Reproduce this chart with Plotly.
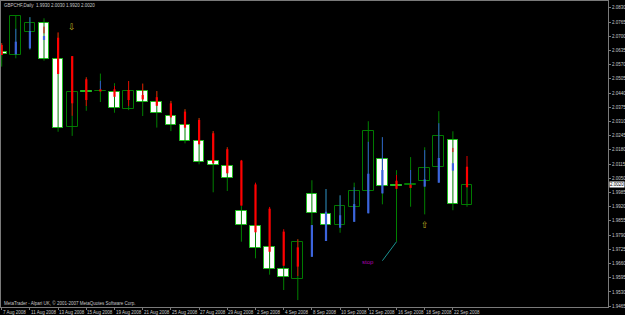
import plotly.graph_objects as go

# ---------------- data ----------------
dates = ["7 Aug 2008", "8 Aug 2008", "11 Aug 2008", "12 Aug 2008", "13 Aug 2008", "14 Aug 2008",
         "15 Aug 2008", "18 Aug 2008", "19 Aug 2008", "20 Aug 2008", "21 Aug 2008", "22 Aug 2008",
         "25 Aug 2008", "26 Aug 2008", "27 Aug 2008", "28 Aug 2008", "29 Aug 2008", "1 Sep 2008",
         "2 Sep 2008", "3 Sep 2008", "4 Sep 2008", "5 Sep 2008", "8 Sep 2008", "9 Sep 2008",
         "10 Sep 2008", "11 Sep 2008", "12 Sep 2008", "15 Sep 2008", "16 Sep 2008", "17 Sep 2008",
         "18 Sep 2008", "19 Sep 2008", "22 Sep 2008", "23 Sep 2008"]

opens = [2.0629, 2.0615, 2.0721, 2.0760, 2.0594, 2.0283, 2.0450, 2.0449, 2.0446, 2.0366, 2.0449, 2.0398,
         2.0335, 2.0294, 2.0219, 2.0129, 2.0108, 1.9900, 1.9833, 1.9734, 1.9635, 1.9591, 1.9977, 1.9887,
         1.9835, 1.9920, 1.9991, 2.0137, 2.0019, 2.0021, 2.0036, 2.0100, 2.0224, 1.9930]
highs = [2.0668, 2.0795, 2.0787, 2.0782, 2.0715, 2.0600, 2.0512, 2.0529, 2.0485, 2.0495, 2.0483, 2.0449,
         2.0404, 2.0366, 2.0326, 2.0266, 2.0192, 1.9923, 1.9850, 1.9768, 1.9667, 1.9771, 2.0041, 2.0001,
         1.9972, 2.0030, 2.0311, 2.0238, 2.0087, 2.0147, 2.0192, 2.0357, 2.0265, 2.0030]
lows = [2.0561, 2.0599, 2.0640, 2.0588, 2.0263, 2.0244, 2.0359, 2.0399, 2.0350, 2.0362, 2.0335, 2.0282,
        2.0266, 2.0210, 2.0114, 1.9986, 1.9992, 1.9760, 1.9684, 1.9609, 1.9539, 1.9493, 1.9691, 1.9763,
        1.9801, 1.9851, 1.9890, 1.9931, 1.9760, 1.9920, 1.9885, 2.0030, 1.9904, 1.9920]
closes = [2.0617, 2.0793, 2.0760, 2.0597, 2.0280, 2.0446, 2.0447, 2.0449, 2.0370, 2.0448, 2.0398, 2.0350,
          2.0294, 2.0219, 2.0123, 2.0110, 2.0053, 1.9835, 1.9730, 1.9634, 1.9597, 1.9760, 1.9890, 1.9838,
          1.9922, 1.9991, 2.0265, 2.0015, 2.0017, 2.0022, 2.0097, 2.0244, 1.9931, 2.0020]

# Heiken Ashi overlay
ha_high = [2.0668, 2.0734, 2.0787, 2.0744, 2.0718, 2.0609, 2.0512, 2.0496, 2.0472, 2.0495, 2.0483, 2.0449,
           2.0404, 2.0366, 2.0326, 2.0266, 2.0192, 2.0134, 2.0030, 1.9919, 1.9817, 1.9771, 1.9836, 2.0001,
           1.9972, 2.0009, 2.0217, 2.0238, 2.0065, 2.0088, 2.0179, 2.0302, 2.0189, 2.0152]
ha_low = [2.0614, 2.0617, 2.0640, 2.0713, 2.0527, 2.0336, 2.0381, 2.0449, 2.0423, 2.0381, 2.0411, 2.0382,
          2.0329, 2.0282, 2.0206, 2.0119, 2.0073, 1.9925, 1.9803, 1.9714, 1.9650, 1.9603, 1.9691, 1.9763,
          1.9824, 1.9851, 1.9890, 1.9981, 2.0002, 2.0021, 2.0012, 2.0030, 2.0170, 2.0009]
ha_open = [2.0660, 2.0617, 2.0645, 2.0683, 2.0693, 2.0609, 2.0503, 2.0457, 2.0457, 2.0454, 2.0431, 2.0421,
           2.0393, 2.0355, 2.0317, 2.0256, 2.0183, 2.0131, 2.0022, 1.9911, 1.9806, 1.9734, 1.9691, 1.9763,
           1.9824, 1.9851, 1.9890, 1.9981, 2.0039, 2.0021, 2.0012, 2.0030, 2.0085, 2.0103]
ha_close = [2.0614, 2.0675, 2.0724, 2.0701, 2.0527, 2.0393, 2.0408, 2.0447, 2.0423, 2.0408, 2.0411, 2.0382,
            2.0329, 2.0282, 2.0206, 2.0119, 2.0073, 1.9925, 1.9803, 1.9714, 1.9650, 1.9646, 1.9836, 1.9897,
            1.9881, 1.9932, 2.0071, 2.0088, 2.0002, 2.0006, 2.0045, 2.0143, 2.0119, 2.0009]
ha_wick_up = [0, 1, 1, 0, 0, 0, 0, 1, 0, 0, 0, 0, 0, 0, 0, 0, 0, 0, 0, 0, 0, 0, 1, 1, 1, 1, 1, 1, 0, 1,
              1, 1, 0, 0]

y_ticks = [2.0830, 2.0765, 2.0700, 2.0635, 2.0570, 2.0505, 2.0440, 2.0375, 2.0310, 2.0245, 2.0180,
           2.0115, 2.0050, 1.9985, 1.9920, 1.9855, 1.9790, 1.9725, 1.9660, 1.9595, 1.9530, 1.9465]
label_every = 2

title_text = "GBPCHF,Daily  1.9930 2.0030 1.9920 2.0020"
footer_text = "MetaTrader - Alpari UK, \u00a9 2001-2007 MetaQuotes Software Corp."
current_price = 2.0020

# chart objects drawn on the chart
down_arrow = (5, 2.0742)
up_arrow = (30, 1.9836)
stop_label = (26.0, 1.9667)
stop_line_x = [27.0, 28.0]
stop_line_y = [1.9673, 1.9760]

# ---------------- figure ----------------
FONT = "Liberation Sans"
TXT = "#c8c8c8"
n = len(dates)
xs = list(range(n))

fig = go.Figure()

# wicks
wx, wy = [], []
for i in xs:
    wx += [i, i, None]
    wy += [lows[i], highs[i], None]
fig.add_trace(go.Scatter(x=wx, y=wy, mode="lines", line=dict(color="#008000", width=1),
                         hoverinfo="skip"))

# bodies
base = [min(o, c) for o, c in zip(opens, closes)]
height = [max(abs(c - o), 0.00022) for o, c in zip(opens, closes)]
fill = ["#ffffff" if c < o else "#000000" for o, c in zip(opens, closes)]
edge = ["#1fbf1f" if c < o else "#007a00" for o, c in zip(opens, closes)]
fig.add_trace(go.Bar(x=xs, y=height, base=base, width=0.76,
                     marker=dict(color=fill, line=dict(color=edge, width=1)), hoverinfo="skip"))

# Heiken Ashi thin lines
for up, col in [(0, "#e00000"), (1, "#2f55c8")]:
    tx, ty = [], []
    for i in xs:
        if ha_wick_up[i] == up:
            tx += [i, i, None]
            ty += [ha_low[i], ha_high[i], None]
    fig.add_trace(go.Scatter(x=tx, y=ty, mode="lines", line=dict(color=col, width=1),
                             hoverinfo="skip"))

# Heiken Ashi thick bars
for bull, col in [(False, "#ff0000"), (True, "#3c64dc")]:
    tx, ty = [], []
    for i in xs:
        if (ha_close[i] > ha_open[i]) == bull:
            tx += [i, i, None]
            ty += [ha_open[i], ha_close[i], None]
    fig.add_trace(go.Scatter(x=tx, y=ty, mode="lines", line=dict(color=col, width=2.2),
                             hoverinfo="skip"))

# stop trend line
fig.add_trace(go.Scatter(x=stop_line_x, y=stop_line_y, mode="lines",
                         line=dict(color="#1a9090", width=1), hoverinfo="skip"))

annotations = []
for i in range(0, n, label_every):
    annotations.append(dict(x=i, y=0, xref="x", yref="paper", text=dates[i], showarrow=False,
                            xanchor="left", yanchor="top", yshift=-1, xshift=-1,
                            font=dict(size=4.5, color=TXT, family=FONT)))
annotations.append(dict(x=0, y=1, xref="paper", yref="paper", text=title_text, showarrow=False,
                        xanchor="left", yanchor="top", xshift=1, yshift=0,
                        font=dict(size=4.5, color=TXT, family=FONT)))
annotations.append(dict(x=0, y=0, xref="paper", yref="paper", text=footer_text, showarrow=False,
                        xanchor="left", yanchor="bottom", xshift=1, yshift=-1,
                        font=dict(size=4.5, color=TXT, family=FONT)))
annotations.append(dict(x=1, y=current_price, xref="paper", yref="y", text=f"{current_price:.4f}",
                        showarrow=False, xanchor="left", yanchor="middle", xshift=1,
                        bgcolor="#ffffff", borderpad=0,
                        font=dict(size=4.5, color="#000000", family=FONT)))
annotations.append(dict(x=down_arrow[0], y=down_arrow[1], xref="x", yref="y", text="\u21e9",
                        showarrow=False, font=dict(size=9, color="#c0b020", family="DejaVu Sans")))
annotations.append(dict(x=up_arrow[0], y=up_arrow[1], xref="x", yref="y", text="\u21e7",
                        showarrow=False, font=dict(size=9, color="#c0b020", family="DejaVu Sans")))
annotations.append(dict(x=stop_label[0], y=stop_label[1], xref="x", yref="y", text="stop",
                        showarrow=False, font=dict(size=6, color="#b000b0", family=FONT)))

fig.update_layout(
    template="none",
    width=625, height=315,
    margin=dict(l=1, r=17, t=1, b=8, pad=0),
    paper_bgcolor="#000000", plot_bgcolor="#000000",
    showlegend=False, barmode="overlay", bargap=0,
    annotations=annotations,
    xaxis=dict(range=[-0.05, 43.0], showgrid=False, zeroline=False, showline=True, mirror=True,
               linecolor="#7a7a7a", linewidth=1, tickvals=list(range(0, n, label_every)),
               ticks="outside", ticklen=2, tickcolor="#7a7a7a", showticklabels=False,
               automargin=False, fixedrange=True),
    yaxis=dict(range=[1.94612, 2.08611], side="right", showgrid=False, zeroline=False,
               showline=True, mirror=True, linecolor="#7a7a7a", linewidth=1,
               tickvals=y_ticks, ticktext=[f"{v:.4f}" for v in y_ticks],
               ticks="outside", ticklen=2, tickcolor="#7a7a7a",
               tickfont=dict(size=4.5, color=TXT, family=FONT),
               automargin=False, fixedrange=True),
)

fig.write_html("out.html")
